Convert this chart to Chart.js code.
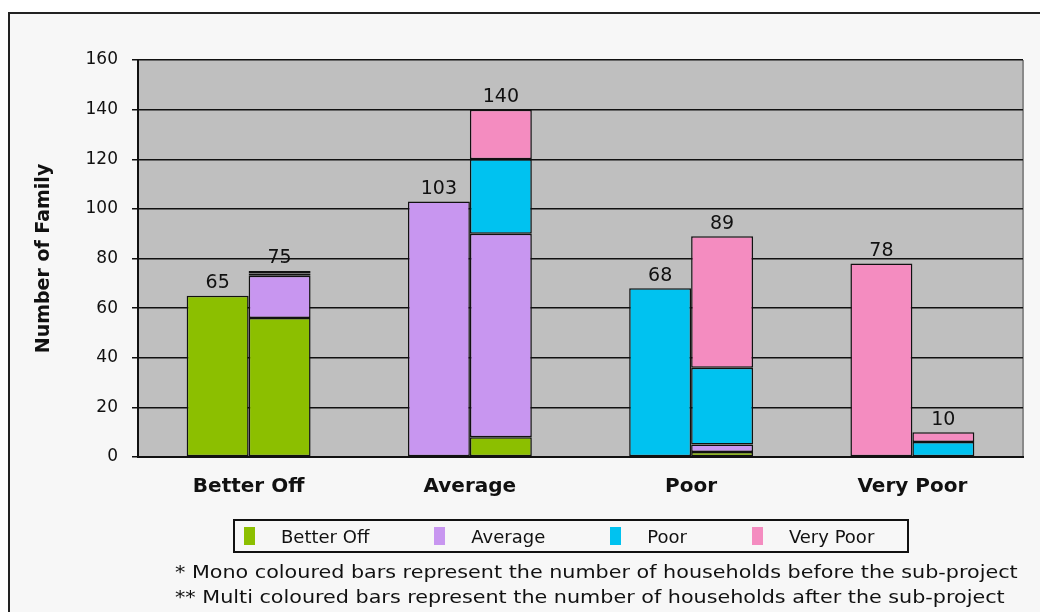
<!DOCTYPE html>
<html>
<head>
<meta charset="utf-8">
<script src="https://cdn.jsdelivr.net/npm/chart.js@4"></script>
<style>
  html, body { margin: 0; padding: 0; background: #ffffff; overflow: hidden; }
  #frame {
    position: absolute; left: 8px; top: 12px; width: 1100px; height: 700px;
    border: 2px solid #222; background: #f7f7f7;
  }
  #wrap { position: absolute; left: 0; top: 0; width: 1040px; height: 612px; }
  #legend {
    position: absolute; left: 233px; top: 519px; width: 663px; height: 30px;
    border: 2px solid #111; display: flex; align-items: center; padding-left: 9px;
    box-sizing: content-box;
  }
  #legend .item { display: flex; align-items: center; margin-right: 65px; }
  #legend .sw { width: 11px; height: 18px; margin-right: 26px; }
  #legend .tx { font: 18px "DejaVu Sans", sans-serif; color: #111; white-space: nowrap; }
  .note {
    position: absolute; left: 175px; font: 18px "DejaVu Sans", sans-serif; color: #111;
    white-space: nowrap; transform: scaleX(1.15); transform-origin: left center;
  }
</style>
</head>
<body>
<div id="frame"></div>
<div id="wrap"><canvas id="chart" width="1040" height="612"></canvas></div>
<div id="legend"></div>
<div class="note" style="top:561px">* Mono coloured bars represent the number of households before the sub-project</div>
<div class="note" style="top:586px">** Multi coloured bars represent the number of households after the sub-project</div>
<script>
// ---------- data ----------
const categories = ['Better Off', 'Average', 'Poor', 'Very Poor'];
const groups = ['Better Off', 'Average', 'Poor', 'Very Poor'];
const colors = ['#8cbf00', '#c896f0', '#00c2f0', '#f48cc0'];

// before the sub-project (one colour per category)
const before = [65, 103, 68, 78];

// after the sub-project, split by group
const afterBetterOff = [56, 8, 2, 0];
const afterAverage   = [17, 82, 3, 0];
const afterPoor      = [1, 30, 31, 6];
const afterVeryPoor  = [1, 20, 53, 4];
const afterSeries = [afterBetterOff, afterAverage, afterPoor, afterVeryPoor];

const yTicks = [0, 20, 40, 60, 80, 100, 120, 140, 160];

// ---------- datasets ----------
const datasets = [];
groups.forEach((g, i) => {
  datasets.push({
    label: g,
    stack: 'before',
    data: before.map((v, j) => (j === i ? v : null)),
    backgroundColor: colors[i],
  });
});
groups.forEach((g, i) => {
  datasets.push({
    label: g,
    stack: 'after',
    data: afterSeries[i],
    backgroundColor: colors[i],
  });
});

// ---------- legend (html) ----------
const legendEl = document.getElementById('legend');
groups.forEach((g, i) => {
  const it = document.createElement('div');
  it.className = 'item';
  it.innerHTML = `<div class="sw" style="background:${colors[i]}"></div><div class="tx">${g}</div>`;
  if (i === groups.length - 1) it.style.marginRight = '0';
  legendEl.appendChild(it);
});

// ---------- plugins ----------
const plotBg = {
  id: 'plotBg',
  beforeDraw(chart) {
    const { ctx, chartArea: a } = chart;
    ctx.save();
    ctx.fillStyle = '#bfbfbf';
    ctx.fillRect(a.left, a.top, a.right - a.left, a.bottom - a.top);
    ctx.strokeStyle = '#8a8a8a';
    ctx.lineWidth = 2;
    ctx.beginPath();
    ctx.moveTo(a.right, a.top);
    ctx.lineTo(a.right, a.bottom);
    ctx.stroke();
    ctx.restore();
  }
};

const totals = {
  id: 'totals',
  afterDatasetsDraw(chart) {
    const { ctx } = chart;
    const y = chart.scales.y;
    ctx.save();
    ctx.font = '19px "DejaVu Sans", sans-serif';
    ctx.fillStyle = '#111';
    ctx.textAlign = 'center';
    ctx.textBaseline = 'bottom';
    categories.forEach((c, j) => {
      ['before', 'after'].forEach(stack => {
        let sum = 0, x = null;
        chart.data.datasets.forEach((ds, di) => {
          if (ds.stack !== stack) return;
          const v = ds.data[j];
          if (v == null) return;
          sum += v;
          x = chart.getDatasetMeta(di).data[j].x;
        });
        if (x == null || sum === 0) return;
        ctx.fillText(String(sum), x, y.getPixelForValue(sum) - 3);
      });
    });
    ctx.restore();
  }
};

// ---------- chart ----------
new Chart(document.getElementById('chart'), {
  type: 'bar',
  data: { labels: categories, datasets },
  options: {
    responsive: false,
    animation: false,
    devicePixelRatio: 1,
    layout: { padding: { left: 33, right: 17, top: 60, bottom: 105 } },
    datasets: {
      bar: {
        borderColor: '#111',
        borderWidth: 1.5,
        borderSkipped: false,
        categoryPercentage: 0.56,
        barPercentage: 1.0,
      }
    },
    plugins: {
      tooltip: { enabled: false },
      legend: { display: false },
    },
    scales: {
      x: {
        stacked: true,
        afterFit: s => { s.height = 50; },
        grid: { display: false },
        border: { display: true, color: '#111', width: 2 },
        ticks: {
          color: '#111',
          padding: 10,
          font: { family: 'DejaVu Sans', size: 20, weight: 'bold' },
        },
      },
      y: {
        stacked: true,
        min: 0,
        max: 160,
        afterBuildTicks: s => { s.ticks = yTicks.map(v => ({ value: v })); },
        afterFit: s => { s.width = 105; },
        grid: { color: '#111', lineWidth: 1.5, tickLength: 6, tickColor: '#111' },
        border: { display: true, color: '#111', width: 2 },
        ticks: {
          color: '#111',
          padding: 14,
          font: { family: 'DejaVu Sans', size: 17 },
        },
        title: {
          display: true,
          text: 'Number of Family',
          color: '#111',
          padding: { top: 0, bottom: 10 },
          font: { family: 'DejaVu Sans', size: 19, weight: 'bold' },
        },
      }
    }
  },
  plugins: [plotBg, totals]
});
</script>
</body>
</html>
